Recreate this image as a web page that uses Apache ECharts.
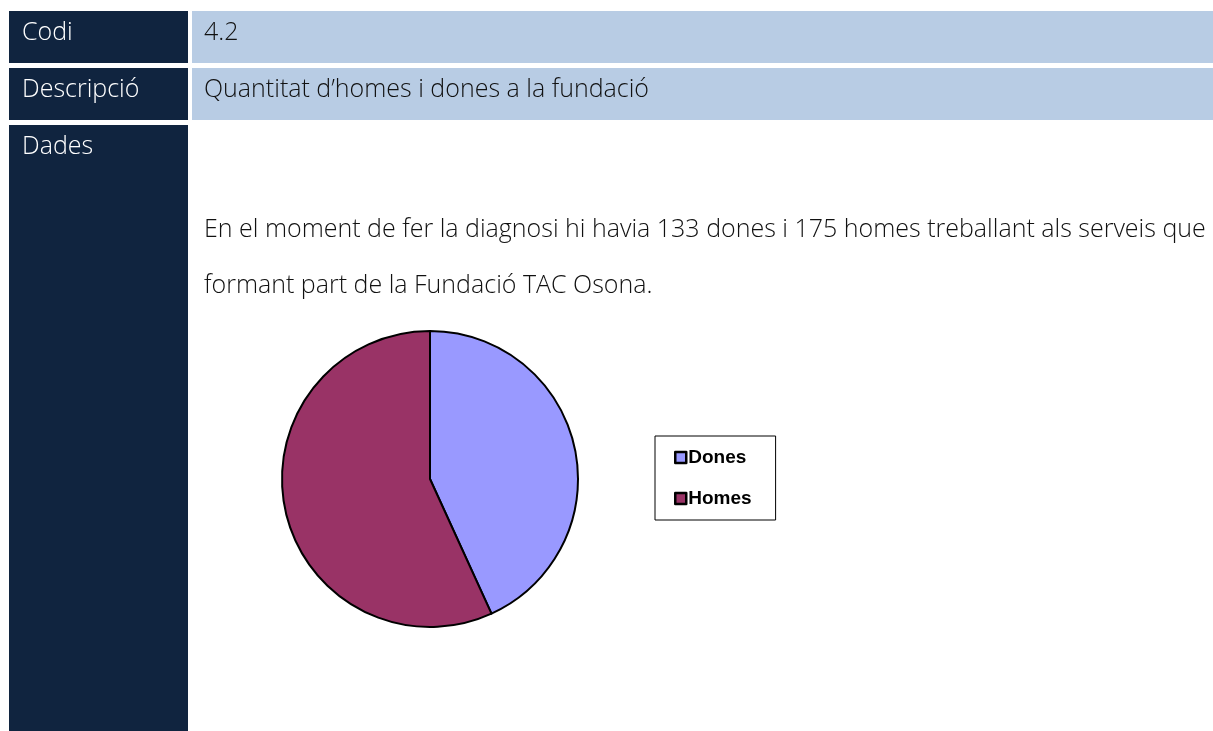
<!DOCTYPE html>
<html>
<head>
<meta charset="utf-8">
<script src="https://cdn.jsdelivr.net/npm/echarts@6/dist/echarts.min.js"></script>
<style>
  html, body { margin: 0; padding: 0; background: #fff; }
  #main { width: 1213px; height: 731px; }
</style>
</head>
<body>
<div id="main"></div>
<script>
// dades del gràfic
const categories = ['Dones', 'Homes']
const values = [133, 175]
const colors = ['#9999FF', '#993366']

const navy = '#10243F'
const lightBlue = '#B8CCE4'
const textFont = '300 25px "Open Sans", "Noto Sans", sans-serif'

const chart = echarts.init(document.getElementById('main'), null, { renderer: 'canvas' })

const option = {
  backgroundColor: '#ffffff',
  animation: false,
  graphic: [
    // columna esquerra
    { type: 'rect', shape: { x: 9, y: 11, width: 179, height: 52 }, style: { fill: navy } },
    { type: 'rect', shape: { x: 9, y: 68, width: 179, height: 52 }, style: { fill: navy } },
    { type: 'rect', shape: { x: 9, y: 125, width: 179, height: 606 }, style: { fill: navy } },
    // columna dreta
    { type: 'rect', shape: { x: 192, y: 11, width: 1021, height: 52 }, style: { fill: lightBlue } },
    { type: 'rect', shape: { x: 192, y: 68, width: 1021, height: 52 }, style: { fill: lightBlue } },
    // textos
    { type: 'text', x: 22, y: 33, style: { text: 'Codi', fill: '#fff', font: textFont, textVerticalAlign: 'middle' } },
    { type: 'text', x: 22, y: 90, style: { text: 'Descripció', fill: '#fff', font: textFont, textVerticalAlign: 'middle' } },
    { type: 'text', x: 22, y: 147, style: { text: 'Dades', fill: '#fff', font: textFont, textVerticalAlign: 'middle' } },
    { type: 'text', x: 204, y: 33, style: { text: '4.2', fill: '#111', font: textFont, textVerticalAlign: 'middle' } },
    { type: 'text', x: 204, y: 90, style: { text: 'Quantitat d\u2019homes i dones a la fundació', fill: '#111', font: textFont, textVerticalAlign: 'middle' } },
    { type: 'text', x: 204, y: 230, style: { text: 'En el moment de fer la diagnosi hi havia 133 dones i 175 homes treballant als serveis que', fill: '#111', font: textFont, textVerticalAlign: 'middle' } },
    { type: 'text', x: 204, y: 286, style: { text: 'formant part de la Fundació TAC Osona.', fill: '#111', font: textFont, textVerticalAlign: 'middle' } }
  ],
  legend: {
    orient: 'vertical',
    left: 655,
    top: 436,
    data: categories,
    icon: 'rect',
    itemWidth: 11,
    itemHeight: 11,
    itemGap: 22,
    padding: [12, 24, 12, 19],
    backgroundColor: '#fff',
    borderColor: '#000',
    borderWidth: 1,
    itemStyle: { borderColor: '#000', borderWidth: 2.5 },
    textStyle: {
      fontFamily: 'Liberation Sans, Arial, sans-serif',
      fontWeight: 'bold',
      fontSize: 19,
      color: '#000',
      padding: [0, 0, 0, -3]
    }
  },
  series: [{
    type: 'pie',
    center: [430, 479],
    radius: 148,
    startAngle: 90,
    clockwise: true,
    label: { show: false },
    labelLine: { show: false },
    emphasis: { disabled: true },
    itemStyle: { borderColor: '#000', borderWidth: 2 },
    data: categories.map((name, i) => ({
      name: name,
      value: values[i],
      itemStyle: { color: colors[i] }
    }))
  }]
}

chart.setOption(option)
</script>
</body>
</html>
